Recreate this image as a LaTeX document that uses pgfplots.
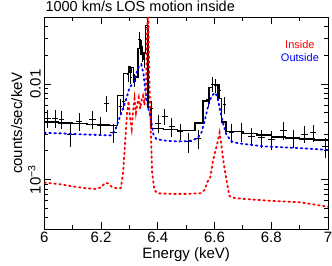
\documentclass[border=0pt]{standalone}
\usepackage{pgfplots}
\pgfplotsset{compat=1.18}
\usepackage{fontspec}
\setmainfont{Liberation Sans}
\definecolor{pred}{RGB}{255,0,0}
\definecolor{pblue}{RGB}{0,0,255}
\begin{document}
\begin{tikzpicture}
\useasboundingbox (0,0) rectangle (332bp,266bp);
\begin{axis}[
  at={(44.3bp,37bp)}, anchor=south west,
  scale only axis, width=283.7bp, height=212bp,
  xmin=6, xmax=7, ymode=log, ymin=3.05e-4, ymax=0.05,
  xtick={6,6.2,6.4,6.6,6.8,7},
  xticklabels={6,6.2,6.4,6.6,6.8,7},
  minor x tick num=1,
  ytick={0.001,0.01},
  yticklabels={10\textsuperscript{−3},0.01},
  minor ytick={4e-4,5e-4,6e-4,7e-4,8e-4,9e-4,2e-3,3e-3,4e-3,5e-3,6e-3,7e-3,8e-3,9e-3,0.02,0.03,0.04},
  tick align=inside,
  major tick length=7bp, minor tick length=4bp,
  every tick/.style={black, line width=0.8pt},
  axis line style={line width=0.9pt},
  /pgf/number format/assume math mode=true,
  tick label style={font=\fontsize{15bp}{17bp}\selectfont},
  yticklabel style={rotate=90, anchor=south, xshift=0bp},
  label style={font=\fontsize{15bp}{17bp}\selectfont},
  xlabel={Energy (keV)},
  ylabel={counts/sec/keV},
  xlabel style={yshift=2bp},
  ylabel style={yshift=-1bp},
  clip mode=individual,
]
% data with error bars
\addplot[draw=none, mark=none, forget plot,
  error bars/.cd, x dir=both, x explicit, y dir=both, y explicit, error mark=none,
  error bar style={black, line width=0.8pt}]
 table[x=x, y=y, x error=ex, y error=ey] {
x      y       ex     ey
6.011  0.0044  0.012  0.0009
6.038  0.0044  0.010  0.0009
6.061  0.0043  0.010  0.0009
6.093  0.0030  0.012  0.0008
6.122  0.0041  0.012  0.0009
6.169  0.0043  0.012  0.0009
6.196  0.0037  0.010  0.0008
6.220  0.0063  0.008  0.0012
6.243  0.0031  0.012  0.0007
6.268  0.0058  0.006  0.0011
6.280  0.0066  0.005  0.0012
6.296  0.0125  0.004  0.0020
6.305  0.0118  0.004  0.0019
6.318  0.0110  0.004  0.0018
6.336  0.0290  0.004  0.0060
6.345  0.0210  0.003  0.0040
6.352  0.0180  0.003  0.0035
6.362  0.0390  0.003  0.0070
6.378  0.0056  0.006  0.0010
6.401  0.0039  0.010  0.0008
6.425  0.0046  0.010  0.0009
6.449  0.0036  0.010  0.0008
6.478  0.0032  0.012  0.0006
6.507  0.0025  0.012  0.0006
6.542  0.0027  0.012  0.0006
6.577  0.0069  0.006  0.0012
6.592  0.0100  0.005  0.0017
6.603  0.0096  0.005  0.0016
6.618  0.0085  0.005  0.0015
6.636  0.0061  0.006  0.0012
6.660  0.0031  0.010  0.0007
6.695  0.0032  0.010  0.0007
6.730  0.00284 0.012  0.0006
6.765  0.00273 0.012  0.0006
6.800  0.00262 0.012  0.0006
6.842  0.0033  0.012  0.0007
6.877  0.00273 0.012  0.0006
6.918  0.0030  0.012  0.0006
6.947  0.0031  0.012  0.0006
6.990  0.0022  0.012  0.0005
};
% total model (step)
\addplot[black, line width=1.4pt, const plot mark left, mark=none] coordinates {
(6.000,0.00400) (6.050,0.00392) (6.100,0.00385) (6.150,0.00378) (6.200,0.00372)
(6.230,0.00370) (6.257,0.0076) (6.280,0.0128) (6.296,0.0150) (6.302,0.0132)
(6.308,0.0148) (6.314,0.0106) (6.322,0.0118) (6.330,0.0235) (6.336,0.0280)
(6.341,0.0205) (6.347,0.0185) (6.352,0.0210) (6.357,0.0410) (6.366,0.0057)
(6.376,0.0034) (6.420,0.00333) (6.470,0.00325) (6.531,0.00390) (6.560,0.00660)
(6.580,0.00920) (6.592,0.00990) (6.612,0.00700) (6.625,0.00400) (6.640,0.00320)
(6.700,0.00305) (6.750,0.00292) (6.800,0.00280) (6.850,0.00272) (6.900,0.00265)
(6.950,0.00260) (7.000,0.00255)
};
% outside
\addplot[pblue, line width=1.8bp, dash pattern=on 1.6bp off 3.4bp, line cap=round, mark=none] coordinates {
(6.00,0.00308) (6.05,0.00305) (6.10,0.00300) (6.15,0.00296) (6.20,0.00292)
(6.235,0.00290) (6.25,0.00330) (6.26,0.0040) (6.272,0.0050) (6.29,0.0071)
(6.30,0.0091) (6.317,0.0106) (6.33,0.0147) (6.342,0.0160) (6.35,0.0125)
(6.357,0.0080) (6.366,0.0056) (6.372,0.0048) (6.378,0.0039) (6.384,0.0030)
(6.395,0.00265) (6.43,0.00255) (6.47,0.00251) (6.51,0.00252) (6.54,0.0027)
(6.554,0.0031) (6.566,0.0042) (6.577,0.0058) (6.589,0.0074) (6.601,0.0081)
(6.61,0.0074) (6.619,0.0054) (6.63,0.0039) (6.642,0.00295) (6.66,0.00251)
(6.683,0.0024) (6.77,0.00223) (6.89,0.00214) (7.0,0.00205)
};
% inside
\addplot[pred, line width=1.8bp, dash pattern=on 1.6bp off 3.4bp, line cap=round, mark=none] coordinates {
(6.00,0.00093) (6.05,0.00090) (6.10,0.00085) (6.15,0.00081) (6.18,0.00080)
(6.20,0.00083) (6.215,0.00093) (6.225,0.00091) (6.24,0.00083) (6.26,0.00081)
(6.27,0.00082) (6.278,0.0012) (6.285,0.0025) (6.292,0.0050) (6.297,0.0066)
(6.302,0.0045) (6.308,0.0034) (6.313,0.0052) (6.318,0.0070) (6.323,0.0050)
(6.328,0.0062) (6.333,0.0072) (6.338,0.0055) (6.343,0.0068) (6.348,0.0075)
(6.353,0.0060) (6.358,0.0080) (6.362,0.030) (6.366,0.070) (6.370,0.012)
(6.375,0.0035) (6.380,0.0012) (6.388,0.00078) (6.40,0.00072) (6.45,0.00071)
(6.50,0.00071) (6.55,0.00072) (6.565,0.00078) (6.575,0.00095) (6.585,0.00105)
(6.595,0.0016) (6.61,0.0024) (6.618,0.0031) (6.625,0.0022) (6.632,0.0015)
(6.642,0.0010) (6.652,0.00068) (6.66,0.00065) (6.70,0.00063) (6.80,0.00060)
(6.90,0.00058) (6.95,0.00055) (7.00,0.00052)
};
\node[pred, font=\fontsize{11bp}{13bp}\selectfont] at (rel axis cs:0.901,0.868) {Inside};
\node[pblue, font=\fontsize{11bp}{13bp}\selectfont] at (rel axis cs:0.901,0.807) {Outside};
\node[anchor=base west, inner sep=0pt, font=\fontsize{14.5bp}{17bp}\selectfont] at ([xshift=1bp, yshift=5.5bp]rel axis cs:0,1) {1000 km/s LOS motion inside};
\end{axis}
\end{tikzpicture}
\end{document}
